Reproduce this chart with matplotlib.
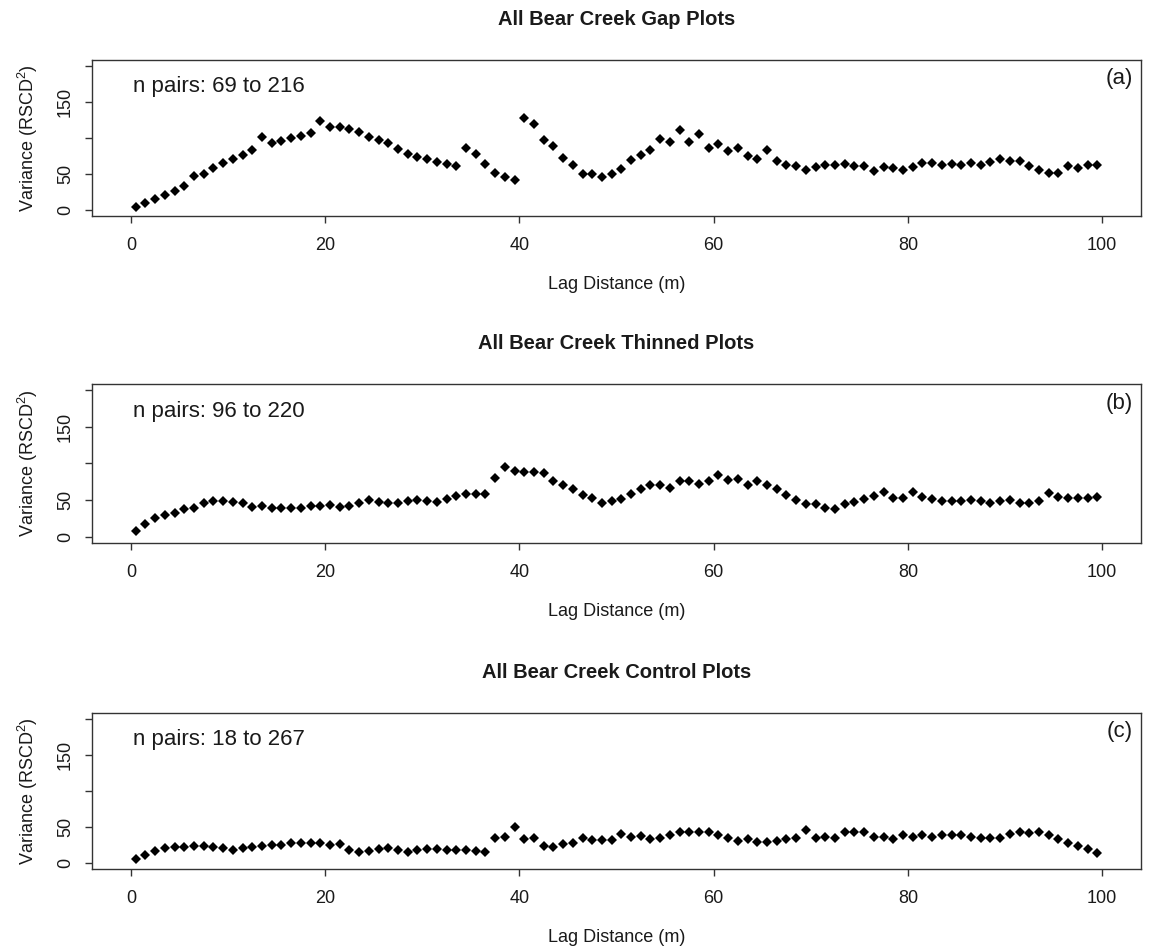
import numpy as np
import matplotlib
matplotlib.use("Agg")
import matplotlib.pyplot as plt

plt.rcParams["font.family"] = ["Liberation Sans", "DejaVu Sans"]
plt.rcParams["mathtext.default"] = "regular"

# lag bins (m), 1 m wide, midpoints
lag = np.arange(0.5, 100.0, 1.0)

gap_var = [4.5, 10, 15.5, 21, 26.4, 32.9, 47, 50, 58.4, 65.3,
           71.2, 75.8, 83, 101, 93.6, 96, 99.5, 102.7, 107, 123,
           114.6, 115, 112, 108.7, 101.8, 97.7, 93.6, 84.5, 78, 74,
           70.3, 67, 64, 61.2, 86, 78, 64, 51, 46.6, 42,
           127, 120, 96.8, 89, 71.7, 62.6, 50.2, 50.2, 46, 50.2,
           56.6, 69.9, 75.8, 83.6, 98.6, 95, 111, 95, 106, 86,
           92, 82, 86.3, 75.3, 70.3, 83.6, 67.5, 62, 61.6, 55.3,
           60.3, 62, 62, 63.4, 61.6, 61.6, 54.3, 59.8, 58.4, 55.3,
           59.4, 65.3, 64.8, 62, 64, 62.6, 65.3, 63, 66.7, 70.8,
           67.5, 68, 60.7, 55.3, 51.6, 51, 60.7, 59, 62.6, 62.6]

thinned_var = [7.9, 17.4, 26, 30, 33.3, 37.8, 40, 47, 49.7, 49.7,
               47.8, 46, 40.5, 42.8, 39.6, 39.6, 39.6, 39.6, 41.9, 41.9,
               43.7, 40.5, 42.3, 47, 50.5, 47.8, 46.4, 47, 49.7, 50,
               49.7, 47.3, 51.9, 55.5, 58.7, 58.7, 58.7, 80, 95.4, 90,
               88.6, 88.6, 86.8, 76.8, 70.9, 65.5, 57.8, 53.2, 46.4, 49.7,
               52.4, 58.7, 65.5, 70.9, 70.9, 66.8, 76.8, 76.8, 72.3, 76.8,
               84, 77.7, 78.6, 71.4, 76.4, 71.4, 65.5, 57.8, 50.5, 45.6,
               45.6, 40, 38.3, 44.6, 47.8, 51.4, 56, 61, 53.2, 53.2,
               61.9, 54.2, 51.4, 48.7, 48.7, 48.7, 50.5, 49.7, 46.4, 49.7,
               50.5, 47, 47, 49.7, 59.6, 54.6, 53.2, 53.2, 53.2, 54.6]

control_var = [5.7, 11.3, 16.3, 20.5, 21.8, 22.8, 23.7, 23.7, 21.8, 21.4,
               18.6, 21.4, 22.8, 23.2, 24.6, 25.5, 28.3, 28.3, 28.3, 27.4,
               25.5, 26, 18.2, 15.4, 17.2, 20, 21, 19, 15.4, 18.6,
               20, 20, 19, 19, 19, 17.2, 15.4, 34.7, 37, 49.9,
               32.9, 35.6, 23.7, 21.8, 26.9, 27.8, 34.7, 32, 31.5, 31.5,
               40.2, 36.6, 37.5, 33.8, 35.6, 38.4, 43, 43.9, 43, 43,
               39.3, 35.2, 31, 32.9, 29.2, 28.7, 30.1, 34.2, 35.6, 45.8,
               34.7, 36.6, 35.6, 43, 43.9, 43, 36.6, 36.6, 34.2, 39.3,
               36.1, 38.4, 36.6, 38.4, 38.9, 39.3, 36.6, 35.6, 34.7, 35.6,
               40.2, 43.4, 42.5, 43.4, 39.3, 33.8, 28.3, 23.7, 20, 14]

titles = ["All Bear Creek Gap Plots", "All Bear Creek Thinned Plots",
          "All Bear Creek Control Plots"]
pair_ranges = ["n pairs: 69 to 216", "n pairs: 96 to 220", "n pairs: 18 to 267"]
panel_tags = ["(a)", "(b)", "(c)"]
series = [gap_var, thinned_var, control_var]

x_ticks = [0, 20, 40, 60, 80, 100]
y_ticks = [0, 50, 100, 150, 200]
y_ticklabels = ["0", "50", "", "150", ""]

W, H = 1151, 946
fig = plt.figure(figsize=(W / 100, H / 100), dpi=100)
fig.patch.set_facecolor("white")

# axes boxes in pixels: (top, bottom)
boxes = [(60, 216), (384, 543), (713, 869)]
left, right = 92, 1141
FRAME = "#333333"
TXT = "#1a1a1a"

for (top, bot), title, npairs, tag, vals in zip(boxes, titles, pair_ranges,
                                                panel_tags, series):
    ax = fig.add_axes([left / W, 1 - bot / H, (right - left) / W, (bot - top) / H])
    ax.plot(lag, vals, linestyle="none", marker="D", markersize=5,
            color="black", markeredgewidth=0)
    ax.set_xlim(-4, 104)
    ax.set_ylim(-8, 208)
    ax.set_xticks(x_ticks)
    ax.set_yticks(y_ticks)
    ax.set_yticklabels(y_ticklabels, rotation=90, va="center")
    ax.tick_params(axis="both", direction="out", length=5, width=1.0,
                   color=FRAME, labelcolor=TXT, labelsize=13)
    ax.tick_params(axis="x", pad=10)
    ax.tick_params(axis="y", pad=8)
    for spine in ax.spines.values():
        spine.set_color(FRAME)
        spine.set_linewidth(1.0)
    ax.set_xlabel("Lag Distance (m)", fontsize=13, color=TXT, labelpad=16)
    ax.set_ylabel("Variance (RSCD$^{2}$)", fontsize=13, color=TXT, labelpad=12)
    ax.set_title(title, fontsize=14.5, fontweight="bold", color=TXT, pad=25)
    ax.text(0.039, 0.83, npairs, transform=ax.transAxes, fontsize=16,
            color=TXT, ha="left", va="center")
    ax.text(0.992, 0.88, tag, transform=ax.transAxes, fontsize=16,
            color=TXT, ha="right", va="center")

fig.savefig("out.png", dpi=100, facecolor="white")
